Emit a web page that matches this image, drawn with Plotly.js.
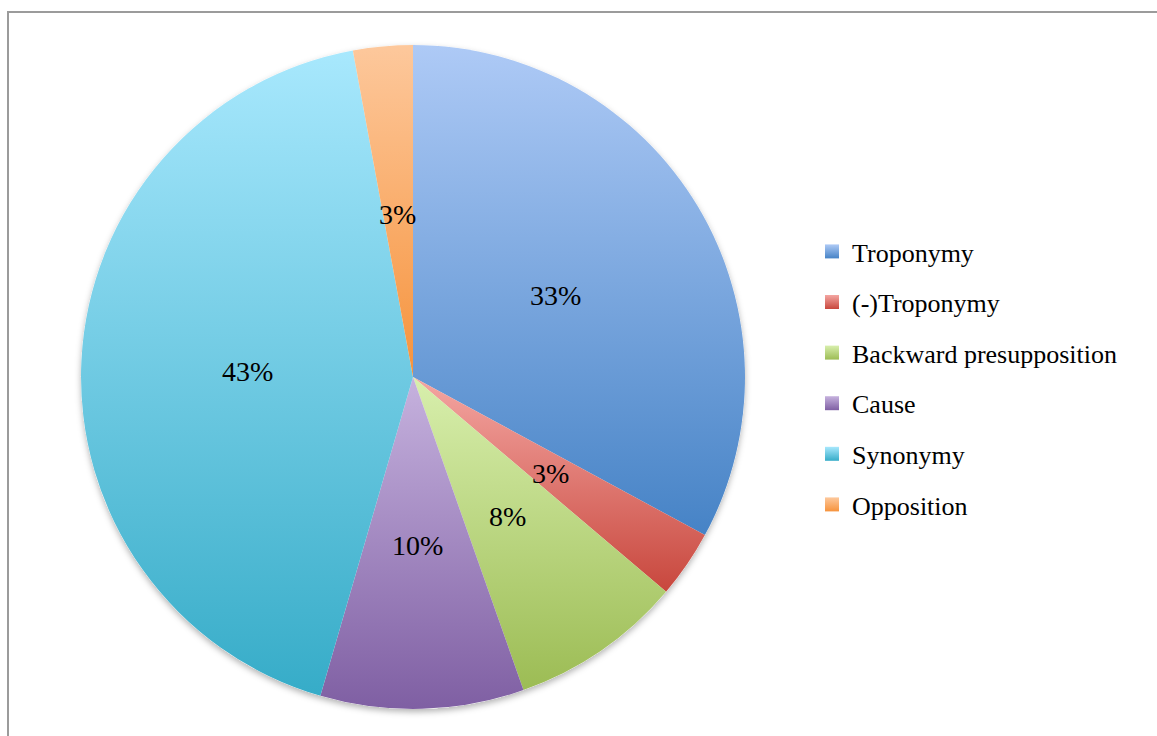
<!DOCTYPE html>
<html>
<head>
<meta charset="utf-8">
<script src="https://cdn.plot.ly/plotly-3.0.1.min.js"></script>
<style>
  html, body { margin: 0; padding: 0; background: #fff; }
  #wrap { position: relative; width: 1157px; height: 736px; overflow: hidden; }
  #chart { position: absolute; left: 0; top: 0; width: 1157px; height: 736px; }
  #frame { position: absolute; left: 7px; top: 11px; width: 1300px; height: 900px;
           border-left: 2px solid #9b9b9b; border-top: 2px solid #9b9b9b; pointer-events: none; }
</style>
</head>
<body>
<div id="wrap">
  <div id="chart"></div>
  <div id="frame"></div>
</div>
<script>
// ---- data ----
const categories = ["Troponymy", "(-)Troponymy", "Backward presupposition", "Cause", "Synonymy", "Opposition"];
const shares = [32.9, 3.3, 8.4, 9.9, 42.6, 2.9];
// ---- styles ----
const topColors = ["#aecaf6", "#f4a6a2", "#d8efad", "#c6b2de", "#a8e8fd", "#fdc89c"];
const bottomColors = ["#4683c6", "#c8473d", "#9cbc54", "#7f5fa3", "#36acc8", "#f6933c"];
const midColors = ["#7aa6de", "#de7770", "#bad580", "#a388c0", "#6fcae2", "#faae6c"];
const SERIF = "Liberation Serif";

const W = 1157, H = 736;
const cx = 413, cy = 377, R = 332;

const pie = {
  type: "pie",
  labels: categories,
  values: shares,
  sort: false,
  direction: "clockwise",
  rotation: 0,
  showlegend: false,
  marker: { colors: midColors, line: { width: 0 } },
  textinfo: "none",
  hoverinfo: "label+percent",
  domain: { x: [(cx - R) / W, (cx + R) / W], y: [(H - cy - R) / H, (H - cy + R) / H] }
};

// percentage labels at half radius, at each slice's mid angle (derived from the data)
const total = shares.reduce((a, b) => a + b, 0);
let cum = 0;
const labelAnnotations = shares.map(v => {
  const mid = (cum + v / 2) / total * 2 * Math.PI;
  cum += v;
  const px = cx + 0.5 * R * Math.sin(mid);
  const py = cy - 0.5 * R * Math.cos(mid);
  return {
    xref: "paper", yref: "paper",
    x: px / W, y: 1 - py / H,
    xanchor: "center", yanchor: "middle",
    yshift: -3,
    text: Math.round(v / total * 100) + "%",
    showarrow: false,
    font: { family: SERIF, size: 28, color: "#000" }
  };
});

const legendTraces = categories.map((name, i) => ({
  type: "scatter",
  mode: "markers",
  x: [null], y: [null],
  name: name,
  legendgroup: "g" + i,
  showlegend: true,
  marker: { symbol: "square", size: 14, color: topColors[i], line: { width: 0 },
            gradient: { type: "vertical", color: bottomColors[i] } },
  hoverinfo: "skip"
}));

const layout = {
  width: W, height: H,
  margin: { l: 0, r: 0, t: 0, b: 0 },
  paper_bgcolor: "#fff",
  plot_bgcolor: "rgba(0,0,0,0)",
  font: { family: SERIF },
  xaxis: { visible: false, domain: [0.99, 1] },
  yaxis: { visible: false, domain: [0.99, 1] },
  showlegend: true,
  annotations: labelAnnotations,
  legend: {
    x: 812 / W, xanchor: "left",
    y: 1 - 228 / H, yanchor: "top",
    traceorder: "grouped",
    tracegroupgap: 13.8,
    font: { family: SERIF, size: 26, color: "#000" },
    bgcolor: "rgba(0,0,0,0)",
    borderwidth: 0
  }
};

Plotly.newPlot("chart", [pie].concat(legendTraces), layout, { displayModeBar: false, staticPlot: true }).then(gd => {
  const svg = gd.querySelector(".main-svg");
  const NS = "http://www.w3.org/2000/svg";
  let defs = svg.querySelector("defs");
  if (!defs) { defs = document.createElementNS(NS, "defs"); svg.insertBefore(defs, svg.firstChild); }
  topColors.forEach((c, i) => {
    const g = document.createElementNS(NS, "linearGradient");
    g.setAttribute("id", "slicegrad" + i);
    g.setAttribute("x1", "0"); g.setAttribute("y1", "0");
    g.setAttribute("x2", "0"); g.setAttribute("y2", "1");
    const s1 = document.createElementNS(NS, "stop");
    s1.setAttribute("offset", "0"); s1.setAttribute("stop-color", c);
    const s2 = document.createElementNS(NS, "stop");
    s2.setAttribute("offset", "1"); s2.setAttribute("stop-color", bottomColors[i]);
    g.appendChild(s1); g.appendChild(s2); defs.appendChild(g);
  });
  const f = document.createElementNS(NS, "filter");
  f.setAttribute("id", "pieshadow");
  f.setAttribute("x", "-10%"); f.setAttribute("y", "-10%");
  f.setAttribute("width", "120%"); f.setAttribute("height", "120%");
  const ds = document.createElementNS(NS, "feDropShadow");
  ds.setAttribute("dx", "0"); ds.setAttribute("dy", "3");
  ds.setAttribute("stdDeviation", "3"); ds.setAttribute("flood-color", "#000");
  ds.setAttribute("flood-opacity", "0.3");
  f.appendChild(ds); defs.appendChild(f);

  const paths = gd.querySelectorAll(".pielayer .slice path.surface");
  paths.forEach((p, i) => { p.style.fill = "url(#slicegrad" + i + ")"; });
  const layer = gd.querySelector(".pielayer");
  if (layer && layer.firstChild) {
    const ghost = document.createElementNS(NS, "g");
    ghost.setAttribute("filter", "url(#pieshadow)");
    paths.forEach(p => {
      const c = p.cloneNode(true);
      c.style.fill = "#fff";
      const tr = p.parentNode.getAttribute("transform");
      if (tr) c.setAttribute("transform", tr);
      ghost.appendChild(c);
    });
    layer.insertBefore(ghost, layer.firstChild);
  }
});
</script>
</body>
</html>
